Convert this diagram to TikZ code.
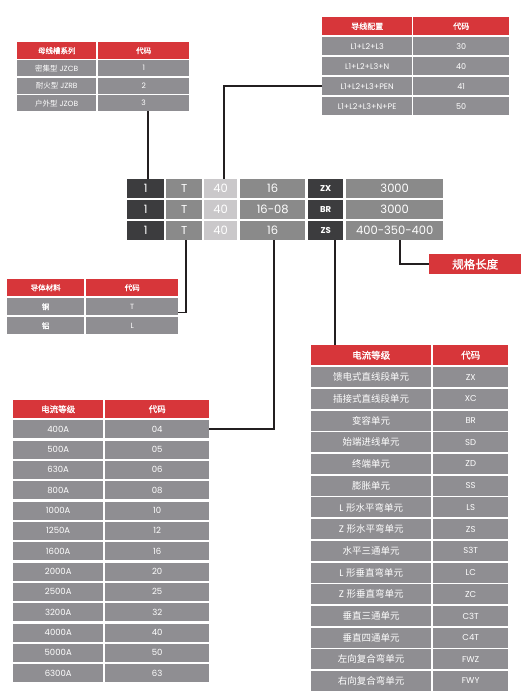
\documentclass[tikz,border=0pt]{standalone}
\usepackage{fontspec}
\setmainfont{Poppins}
\newfontfamily\cjk{Noto Sans CJK SC}
\newfontfamily\cjkb{Noto Sans CJK SC}[FakeBold=1.2]
\definecolor{hdred}{HTML}{D7363A}
\definecolor{rowgrey}{HTML}{8F8E92}
\definecolor{codedark}{HTML}{3C3C3E}
\definecolor{codemid}{HTML}{8A8A8A}
\definecolor{codelight}{HTML}{CAC8CA}
\definecolor{linkdark}{HTML}{231F20}
\tikzset{
  cellbox/.style={anchor=north west, inner sep=0pt, text=white, align=center},
  hdcell/.style={cellbox, fill=hdred, font=\cjkb\fontsize{7.5}{8}\selectfont},
  rowcell/.style={cellbox, fill=rowgrey},
  codecell/.style={cellbox, minimum height=19, font=\fontsize{11.5}{12}\selectfont},
  link/.style={draw=linkdark, line width=1.5pt},
}
\begin{document}
\begin{tikzpicture}[x=1pt, y=-1pt]
    \useasboundingbox (0,0) rectangle (527,696);
    % busway series
    \node [hdcell, minimum width=79, minimum height=17] (tlha) at (17,42) {母线槽系列};
    \node [hdcell, minimum width=91, minimum height=17] (tlhb) at (98,42) {代码};
    \foreach \txt/\code [count=\i] in {{\cjk 密集型} JZCB/1, {\cjk 耐火型} JZRB/2, {\cjk 户外型} JZOB/3} {
        \node [rowcell, minimum width=79, minimum height=16, font=\fontsize{7.5}{8}\selectfont] (tl\i a) at (17,{42.5+17.5*\i}) {\txt};
        \node [rowcell, minimum width=91, minimum height=16, font=\fontsize{7.5}{8}\selectfont] (tl\i b) at (98,{42.5+17.5*\i}) {\code};
    }
    % conductor layout
    \node [hdcell, minimum width=90, minimum height=18, font=\cjkb\fontsize{8}{9}\selectfont] (trha) at (322,17) {导线配置};
    \node [hdcell, minimum width=96, minimum height=18, font=\cjkb\fontsize{8}{9}\selectfont] (trhb) at (413,17) {代码};
    \foreach \txt/\code [count=\i] in {L1+L2+L3/30, L1+L2+L3+N/40, L1+L2+L3+PEN/41, L1+L2+L3+N+PE/50} {
        \node [rowcell, minimum width=90, minimum height=18, font=\fontsize{8}{9}\selectfont] (tr\i a) at (322,{17+20*\i}) {\txt};
        \node [rowcell, minimum width=96, minimum height=18, font=\fontsize{8}{9}\selectfont] (tr\i b) at (413,{17+20*\i}) {\code};
    }
    % code rows
    \foreach \r/\size/\kind/\len in {1/16/ZX/3000, 2/16-08/BR/3000, 3/16/ZS/400-350-400} {
        \node [codecell, fill=codedark, minimum width=37] (c\r1) at (127,{158+21*\r}) {1};
        \node [codecell, fill=codemid, minimum width=36] (c\r2) at (166,{158+21*\r}) {T};
        \node [codecell, fill=codelight, minimum width=33] (c\r3) at (204,{158+21*\r}) {40};
        \node [codecell, fill=codemid, minimum width=65] (c\r4) at (240,{158+21*\r}) {\size};
        \node [codecell, fill=codedark, minimum width=35, font=\bfseries\fontsize{8.5}{9}\selectfont] (c\r5) at (308,{158+21*\r}) {\kind};
        \node [codecell, fill=codemid, minimum width=97] (c\r6) at (346,{158+21*\r}) {\len};
    }
    % spec length
    \node [cellbox, fill=hdred, minimum width=92, minimum height=20, font=\cjkb\fontsize{11.5}{12}\selectfont] (len) at (429,254) {规格长度};
    % conductor material
    \node [hdcell, minimum width=77, minimum height=17] (matha) at (7,279) {导体材料};
    \node [hdcell, minimum width=92, minimum height=17] (mathb) at (86,279) {代码};
    \foreach \txt/\code [count=\i] in {铜/T, 铝/L} {
        \node [rowcell, minimum width=77, minimum height=17, font=\cjkb\fontsize{7.5}{8}\selectfont] (mat\i a) at (7,{279+19*\i}) {\txt};
        \node [rowcell, minimum width=92, minimum height=17, font=\fontsize{7.5}{8}\selectfont] (mat\i b) at (86,{279+19*\i}) {\code};
    }
    % current rating
    \node [hdcell, minimum width=90, minimum height=18, font=\cjkb\fontsize{8.5}{9}\selectfont] (curha) at (13,400) {电流等级};
    \node [hdcell, minimum width=104, minimum height=18, font=\cjkb\fontsize{8.5}{9}\selectfont] (curhb) at (105,400) {代码};
    \foreach \txt/\code [count=\i] in {400A/04, 500A/05, 630A/06, 800A/08, 1000A/10, 1250A/12, 1600A/16,
                                       2000A/20, 2500A/25, 3200A/32, 4000A/40, 5000A/50, 6300A/63} {
        \node [rowcell, minimum width=90, minimum height=18, font=\fontsize{8.5}{9}\selectfont] (cur\i a) at (13,{399.67+20.33*\i}) {\txt};
        \node [rowcell, minimum width=104, minimum height=18, font=\fontsize{8.5}{9}\selectfont] (cur\i b) at (105,{399.67+20.33*\i}) {\code};
    }
    % unit type
    \node [hdcell, minimum width=120, minimum height=20, font=\cjkb\fontsize{9.5}{10}\selectfont] (unitha) at (311,345) {电流等级};
    \node [hdcell, minimum width=75, minimum height=20, font=\cjkb\fontsize{9.5}{10}\selectfont] (unithb) at (433,345) {代码};
    \foreach \txt/\code [count=\i] in {{\cjk 馈电式直线段单元}/ZX, {\cjk 插接式直线段单元}/XC, {\cjk 变容单元}/BR,
                                       {\cjk 始端进线单元}/SD, {\cjk 终端单元}/ZD, {\cjk 膨胀单元}/SS,
                                       L {\cjk 形水平弯单元}/LS, Z {\cjk 形水平弯单元}/ZS, {\cjk 水平三通单元}/S3T,
                                       L {\cjk 形垂直弯单元}/LC, Z {\cjk 形垂直弯单元}/ZC, {\cjk 垂直三通单元}/C3T,
                                       {\cjk 垂直四通单元}/C4T, {\cjk 左向复合弯单元}/FWZ, {\cjk 右向复合弯单元}/FWY} {
        \node [rowcell, minimum width=120, minimum height=20, font=\fontsize{9.5}{10}\selectfont] (unit\i a) at (311,{345.3+21.7*\i}) {\txt};
        \node [rowcell, minimum width=75, minimum height=20, font=\fontsize{8.5}{9}\selectfont] (unit\i b) at (433,{345.3+21.7*\i}) {\code};
    }
    % connectors
    \draw [link] ([xshift=2.5]c11.north) -- ([xshift=2.5]c11.north |- tl3b.south);
    \draw [link] (tr3a.west) -| ([xshift=3.5]c13.north);
    \draw [link] ([xshift=2]c32.south) |- ([yshift=-6]mat1b.east);
    \draw [link] ([xshift=1.5]c34.south) |- (cur1b.east);
    \draw [link] ([xshift=9.5]c35.south) -- ([xshift=9.5]c35.south |- unitha.north);
    \draw [link] ([xshift=5.5]c36.south) |- (len.west);
\end{tikzpicture}
\end{document}
